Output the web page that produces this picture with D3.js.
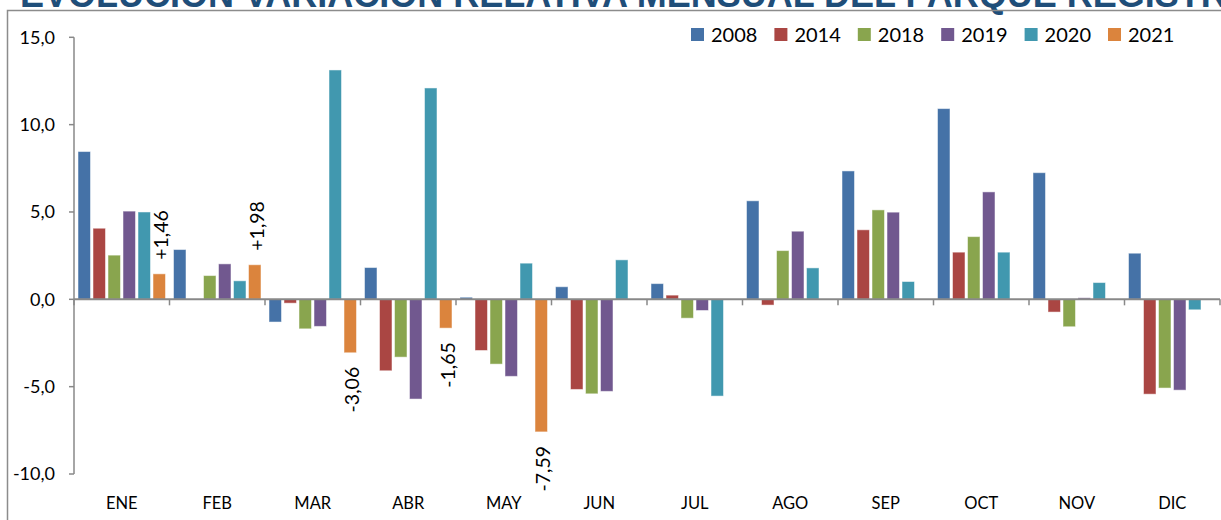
<!DOCTYPE html>
<html>
<head>
<meta charset="utf-8">
<script src="https://cdn.jsdelivr.net/npm/d3@7"></script>
<style>
  html, body { margin: 0; padding: 0; background: #fff; }
  svg { display: block; font-family: "Lato", "Open Sans", sans-serif; }
</style>
</head>
<body>
<div id="chart"></div>
<script>
// months and series
const months = ["ENE", "FEB", "MAR", "ABR", "MAY", "JUN", "JUL", "AGO", "SEP", "OCT", "NOV", "DIC"];
const years = ["2008", "2014", "2018", "2019", "2020", "2021"];

const v2008 = [8.46, 2.85, -1.30, 1.82, 0.12, 0.72, 0.90, 5.64, 7.35, 10.92, 7.25, 2.64];
const v2014 = [4.07, null, -0.22, -4.09, -2.93, -5.16, 0.24, -0.33, 3.98, 2.70, -0.73, -5.43];
const v2018 = [2.53, 1.36, -1.69, -3.31, -3.71, -5.41, -1.08, 2.79, 5.12, 3.59, -1.57, -5.08];
const v2019 = [5.05, 2.03, -1.55, -5.71, -4.41, -5.27, -0.64, 3.90, 4.99, 6.15, 0.09, -5.20];
const v2020 = [5.00, 1.06, 13.13, 12.10, 2.07, 2.26, -5.54, 1.80, 1.02, 2.70, 0.96, -0.60];
const v2021 = [1.46, 1.98, -3.06, -1.65, -7.59, null, null, null, null, null, null, null];

const yTicks = [-10, -5, 0, 5, 10, 15];

const seriesValues = [v2008, v2014, v2018, v2019, v2020, v2021];
const colors = ["#4572A7", "#AA4643", "#89A54E", "#71588F", "#4198AF", "#DB843D"];

const width = 1221;
const height = 520;
const plot = { left: 74, right: 1220, top: 37.3, bottom: 474 };

const svg = d3.select("#chart")
  .append("svg")
  .attr("width", width)
  .attr("height", height);

// title, cut off by the top of the picture as in the original
svg.append("text")
  .attr("x", 20)
  .attr("y", 7)
  .attr("font-family", "Liberation Sans, Arial, sans-serif")
  .attr("font-weight", "bold")
  .attr("font-size", 36)
  .attr("fill", "#1F4E79")
  .text("EVOLUCIÓN VARIACIÓN RELATIVA MENSUAL DEL PARQUE REGISTRADO");

// chart frame
svg.append("path")
  .attr("d", "M7.5," + height + " V10.5 H" + width)
  .attr("fill", "none")
  .attr("stroke", "#8c8c8c")
  .attr("stroke-width", 1.5);

const yScale = d3.scaleLinear()
  .domain([-10, 15])
  .range([plot.bottom, plot.top]);

const xScale = d3.scaleBand()
  .domain(months)
  .range([plot.left, plot.right])
  .paddingInner(0.0838)
  .paddingOuter(0.0419);

const seriesScale = d3.scaleBand()
  .domain(years)
  .range([0, xScale.bandwidth()])
  .paddingInner(0.1667)
  .paddingOuter(0);

const step = xScale.step();
const axisColor = "#888888";

// y axis
const yAxis = svg.append("g").attr("class", "y-axis");
yAxis.append("line")
  .attr("x1", plot.left).attr("x2", plot.left)
  .attr("y1", yScale(15)).attr("y2", yScale(-10))
  .attr("stroke", axisColor).attr("stroke-width", 1.5);
yAxis.selectAll(".tick")
  .data(yTicks)
  .enter()
  .append("line")
  .attr("x1", plot.left - 5).attr("x2", plot.left)
  .attr("y1", function(d) { return yScale(d); })
  .attr("y2", function(d) { return yScale(d); })
  .attr("stroke", axisColor).attr("stroke-width", 1.5);
yAxis.selectAll("text")
  .data(yTicks)
  .enter()
  .append("text")
  .attr("x", 55)
  .attr("y", function(d) { return yScale(d); })
  .attr("dy", "0.35em")
  .attr("text-anchor", "end")
  .attr("font-size", 18)
  .attr("fill", "#000")
  .text(function(d) { return d3.format(".1f")(d).replace(".", ",").replace("−", "-"); });

// bars
seriesValues.forEach(function(values, s) {
  svg.append("g")
    .selectAll("rect")
    .data(months.map(function(m, i) { return { month: m, value: values[i] }; })
      .filter(function(d) { return d.value != null; }))
    .enter()
    .append("rect")
    .attr("x", function(d) { return xScale(d.month) + seriesScale(years[s]); })
    .attr("y", function(d) { return yScale(Math.max(0, d.value)); })
    .attr("width", seriesScale.bandwidth())
    .attr("height", function(d) { return Math.abs(yScale(d.value) - yScale(0)); })
    .attr("fill", colors[s])
    .attr("stroke", "#ffffff")
    .attr("stroke-opacity", 0.5)
    .attr("stroke-width", 1);
});

// zero line with category ticks
const xAxis = svg.append("g").attr("class", "x-axis");
xAxis.append("line")
  .attr("x1", plot.left).attr("x2", plot.right)
  .attr("y1", yScale(0)).attr("y2", yScale(0))
  .attr("stroke", axisColor).attr("stroke-width", 2);
xAxis.selectAll(".tick")
  .data(d3.range(months.length + 1))
  .enter()
  .append("line")
  .attr("x1", function(i) { return plot.left + i * step; })
  .attr("x2", function(i) { return plot.left + i * step; })
  .attr("y1", yScale(0)).attr("y2", yScale(0) + 6)
  .attr("stroke", axisColor).attr("stroke-width", 1.5);

// month labels at the bottom
xAxis.selectAll("text")
  .data(months)
  .enter()
  .append("text")
  .attr("x", function(m) { return xScale(m) + xScale.bandwidth() / 2; })
  .attr("y", 503)
  .attr("dy", "0.35em")
  .attr("text-anchor", "middle")
  .attr("font-size", 16.5)
  .attr("fill", "#000")
  .text(function(m) { return m; });

// 2021 value labels, rotated
const labelGap = 14;
svg.append("g")
  .selectAll("text")
  .data(months.map(function(m, i) { return { month: m, value: v2021[i] }; })
    .filter(function(d) { return d.value != null; }))
  .enter()
  .append("text")
  .attr("transform", function(d) {
    const cx = xScale(d.month) + seriesScale("2021") + seriesScale.bandwidth() / 2 + 2;
    const cy = d.value >= 0 ? yScale(d.value) - labelGap : yScale(d.value) + labelGap;
    return "translate(" + cx + "," + cy + ") rotate(-90)";
  })
  .attr("dy", "0.35em")
  .attr("text-anchor", function(d) { return d.value >= 0 ? "start" : "end"; })
  .attr("font-size", 19.5)
  .attr("fill", "#000")
  .text(function(d) {
    return (d.value >= 0 ? "+" : "-") + Math.abs(d.value).toFixed(2).replace(".", ",");
  });

// legend
const legend = svg.append("g")
  .selectAll("g")
  .data(years)
  .enter()
  .append("g")
  .attr("transform", function(d, i) { return "translate(" + (691 + i * 83.4) + ",28)"; });
legend.append("rect")
  .attr("width", 13).attr("height", 13)
  .attr("fill", function(d, i) { return colors[i]; });
legend.append("text")
  .attr("x", 20)
  .attr("y", 6.5)
  .attr("dy", "0.35em")
  .attr("font-size", 20)
  .attr("fill", "#000")
  .text(function(d) { return d; });
</script>
</body>
</html>
